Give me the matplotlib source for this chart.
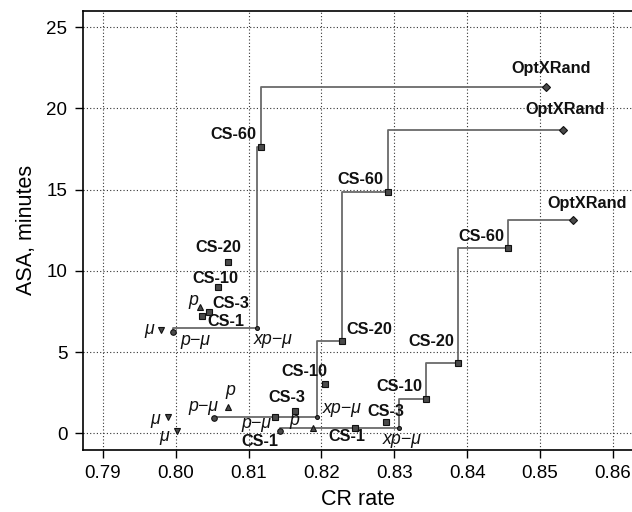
import matplotlib
matplotlib.use("Agg")
import matplotlib.pyplot as plt

plt.rcParams['font.family'] = ['Liberation Sans', 'DejaVu Sans']

# point names, same order in every series
names = ["μ", "p−μ", "p", "CS-1", "CS-3", "xp−μ", "CS-10", "CS-20", "CS-60", "OptXRand"]

s1_x = [0.7980, 0.7996, 0.8033, 0.8036, 0.8046, 0.8112, 0.8058, 0.8072, 0.8117, 0.8508]
s1_y = [6.37, 6.26, 7.78, 7.23, 7.47, 6.51, 8.99, 10.53, 17.60, 21.31]

s2_x = [0.7989, 0.8053, 0.8072, 0.8136, 0.8164, 0.8194, 0.8205, 0.8228, 0.8291, 0.8532]
s2_y = [1.03, 0.92, 1.60, 1.03, 1.38, 1.03, 3.04, 5.69, 14.83, 18.69]

s3_x = [0.8002, 0.8143, 0.8188, 0.8246, 0.8289, 0.8306, 0.8344, 0.8388, 0.8456, 0.8546]
s3_y = [0.14, 0.14, 0.33, 0.35, 0.70, 0.31, 2.14, 4.35, 11.40, 13.14]

# points joined by the step line in each series
s1_path = ["p−μ", "xp−μ", "CS-60", "OptXRand"]
s2_path = ["p−μ", "xp−μ", "CS-20", "CS-60", "OptXRand"]
s3_path = ["p−μ", "xp−μ", "CS-10", "CS-20", "CS-60", "OptXRand"]

x_ticks = [0.79, 0.80, 0.81, 0.82, 0.83, 0.84, 0.85, 0.86]
y_ticks = [0, 5, 10, 15, 20, 25]

# label offsets in pixels (dx right, dy up)
s1_off = {"μ": (-12, 0), "p−μ": (23, -9), "p": (-6, 6), "CS-1": (24, -6), "CS-3": (21, 9),
          "xp−μ": (16, -12), "CS-10": (-3, 9), "CS-20": (-10, 15), "CS-60": (-28, 13),
          "OptXRand": (5, 19)}
s2_off = {"μ": (-13, -3), "p−μ": (-11, 12), "p": (2, 17), "CS-1": (-15, -25), "CS-3": (-8, 13),
          "xp−μ": (25, 8), "CS-10": (-21, 12), "CS-20": (27, 11), "CS-60": (-27, 13),
          "OptXRand": (2, 20)}
s3_off = {"μ": (-13, -5), "p−μ": (-24, 8), "p": (-18, 7), "CS-1": (-8, -9), "CS-3": (0, 10),
          "xp−μ": (3, -11), "CS-10": (-27, 12), "CS-20": (-27, 21), "CS-60": (-27, 12),
          "OptXRand": (14, 16)}

marker_of = {"μ": ("v", 4.8), "p−μ": ("o", 4.0), "p": ("^", 4.8), "CS-1": ("s", 3.7),
             "CS-3": ("s", 3.7), "xp−μ": ("o", 2.8), "CS-10": ("s", 3.7), "CS-20": ("s", 3.7),
             "CS-60": ("s", 3.7), "OptXRand": ("D", 3.8)}

fig = plt.figure(figsize=(6.32, 5.12), dpi=100)
ax = fig.add_axes([0.1307, 0.1219, 1.0019 - 0.1307, 0.9785 - 0.1219])

line_col = "#6a6a6a"
for xs, ys, path, off in [(s1_x, s1_y, s1_path, s1_off),
                          (s2_x, s2_y, s2_path, s2_off),
                          (s3_x, s3_y, s3_path, s3_off)]:
    idx = [names.index(n) for n in path]
    ax.plot([xs[i] for i in idx], [ys[i] for i in idx], drawstyle="steps-pre",
            color=line_col, lw=1.3, zorder=2)
    for i, n in enumerate(names):
        m, ms = marker_of[n]
        ax.plot(xs[i], ys[i], marker=m, ms=ms, mfc="#4a4a4a", mec="#111111",
                mew=0.8, ls="none", zorder=3)
        dx, dy = off[n]
        bold = n.startswith("CS") or n.startswith("Opt")
        ax.annotate(n, (xs[i], ys[i]), xytext=(dx, dy), textcoords="offset pixels",
                    ha="center", va="center", fontsize=11.7 if bold else 12.8,
                    fontweight="bold" if bold else "normal",
                    fontstyle="normal" if bold else "italic", color="#111111", zorder=4)

ax.set_xlim(0.7872, 0.8628)
ax.set_ylim(-1.0, 26.0)
ax.set_xticks(x_ticks)
ax.set_xticklabels([f"{v:.2f}" for v in x_ticks])
ax.set_yticks(y_ticks)
ax.grid(True, ls=(0, (1, 2)), color="#333333", lw=0.8)
ax.set_axisbelow(True)
ax.tick_params(direction="out", length=6, width=1, labelsize=13.5, pad=5)
for s in ax.spines.values():
    s.set_linewidth(1.2)
ax.set_xlabel("CR rate", fontsize=15.5, labelpad=5)
ax.set_ylabel("ASA, minutes", fontsize=15.5, labelpad=7)

fig.savefig("out.png", dpi=100)
